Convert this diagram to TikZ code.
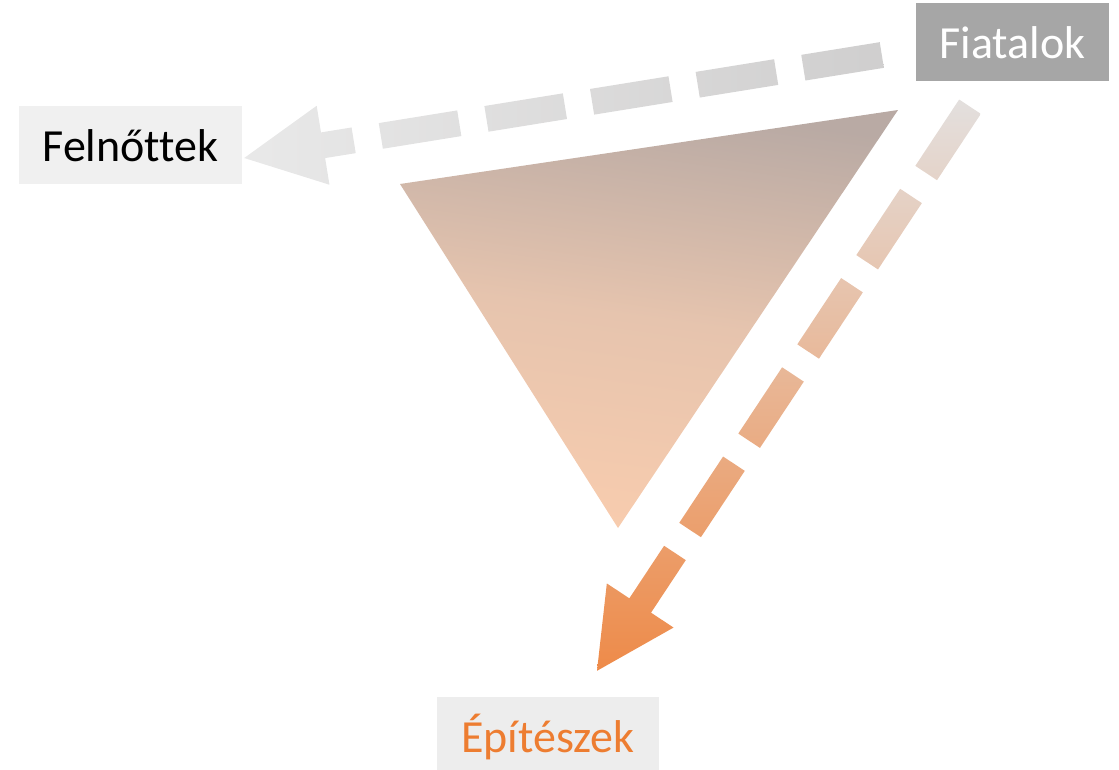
\documentclass[tikz,border=0pt]{standalone}
\usepackage{fontspec}
\setmainfont{Carlito}[Ligatures={NoCommon}]
\usetikzlibrary{calc}
\definecolor{fiaFill}{HTML}{A6A6A6}
\definecolor{felFill}{HTML}{F0F0F0}
\definecolor{epiFill}{HTML}{EDEDED}
\definecolor{epiText}{HTML}{ED7D31}
\definecolor{triTop}{HTML}{B9AAA4}
\definecolor{triMid}{HTML}{E6C4AE}
\definecolor{triBot}{HTML}{F8CCAE}
\definecolor{grayR}{HTML}{CFCECE}
\definecolor{grayL}{HTML}{E9E9E9}
\definecolor{orTop}{HTML}{E3E0DF}
\definecolor{orBot}{HTML}{EE8A48}
\tikzset{
  labelbox/.style={inner xsep=0pt, inner ysep=0pt, minimum height=78pt,
    text height=33pt, text depth=0pt, font=\fontsize{46}{50}\selectfont},
}
\begin{document}
\begin{tikzpicture}[x=1pt,y=-1pt]
\useasboundingbox (0,0) rectangle (1119,769);
% triangle
\shade[top color=triTop, bottom color=triBot, middle color=triMid, shading angle=-8]
  (400,184) -- (898,110) -- (618,528) -- cycle;
% nodes
\node[labelbox, fill=fiaFill, text=white, minimum width=193pt] (fia) at (1012.5,42) {Fiatalok};
\node[labelbox, fill=felFill, text=black, minimum width=223pt] (fel) at (130.5,144.5) {Felnőttek};
\node[labelbox, fill=epiFill, text=epiText, minimum width=222pt] (epi) at (548,736) {Építészek};
% connector end points
\coordinate (gS) at ($(fia.west)+(-34,13)$);
\coordinate (gT) at ($(fel.east)+(2,13.5)$);
\coordinate (oS) at ($(fia.south)+(-42.5,25.5)$);
\coordinate (oT) at ($(epi.north)+(49,-26)$);
% gray dashed arrow Fiatalok -> Felnőttek
\begin{scope}
\clip \foreach \a/\b in {0pt/79.5pt,107pt/186.5pt,214pt/293.5pt,321pt/400.5pt,428pt/507.5pt,535pt/568pt} {
  ($(gS)!\a!(gT)!13pt!90:(gT)$) -- ($(gS)!\b!(gT)!13pt!90:(gT)$) --
  ($(gS)!\b!(gT)!13pt!-90:(gT)$) -- ($(gS)!\a!(gT)!13pt!-90:(gT)$) -- cycle }
  ($(gS)!566pt!(gT)!40pt!90:(gT)$) -- (gT) -- ($(gS)!566pt!(gT)!40pt!-90:(gT)$) -- cycle;
\shade[left color=grayL, right color=grayR] (235,30) rectangle (895,195);
\end{scope}
% orange dashed arrow Fiatalok -> Építészek
\begin{scope}
\clip \foreach \a/\b in {0pt/79.5pt,107pt/186.5pt,214pt/293.5pt,321pt/400.5pt,428pt/507.5pt,535pt/600pt} {
  ($(oS)!\a!(oT)!13pt!90:(oT)$) -- ($(oS)!\b!(oT)!13pt!90:(oT)$) --
  ($(oS)!\b!(oT)!13pt!-90:(oT)$) -- ($(oS)!\a!(oT)!13pt!-90:(oT)$) -- cycle }
  ($(oS)!598pt!(oT)!40pt!90:(oT)$) -- (oT) -- ($(oS)!598pt!(oT)!40pt!-90:(oT)$) -- cycle;
\shade[top color=orTop, bottom color=orBot] (585,95) rectangle (990,675);
\end{scope}
\end{tikzpicture}
\end{document}
